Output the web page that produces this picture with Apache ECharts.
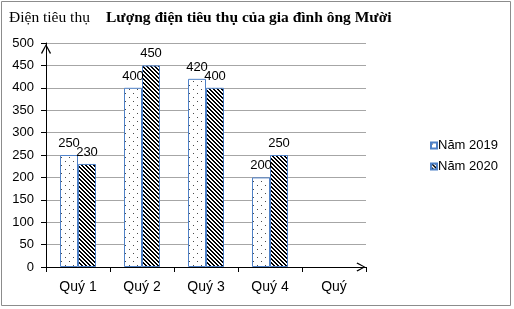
<!DOCTYPE html>
<html>
<head>
<meta charset="utf-8">
<script src="https://cdn.jsdelivr.net/npm/echarts@6/dist/echarts.min.js"></script>
<style>
  html, body { margin: 0; padding: 0; background: #fff; }
  #chart { width: 514px; height: 309px; }
</style>
</head>
<body>
<div id="chart"></div>
<script>
// Quarterly electricity consumption (kWh) of Mr. Mười's family
const quarters = ['Quý 1', 'Quý 2', 'Quý 3', 'Quý 4', 'Quý'];
const year2019 = [250, 400, 420, 200, null];
const year2020 = [230, 450, 400, 250, null];
const seriesNames = ['Năm 2019', 'Năm 2020'];
const yTicks = { min: 0, max: 500, interval: 50 };

// Fill patterns: sparse dots and dense back-slash hatching
function makePattern(size, painter) {
  const c = document.createElement('canvas');
  c.width = size; c.height = size;
  const ctx = c.getContext('2d');
  ctx.fillStyle = '#ffffff';
  ctx.fillRect(0, 0, size, size);
  painter(ctx, size);
  return c;
}
const dotPattern = makePattern(8, (ctx) => {
  ctx.fillStyle = '#4a4a4a';
  ctx.fillRect(1, 1, 1, 1);
  ctx.fillRect(5, 5, 1, 1);
});
const hatchPattern = makePattern(4, (ctx, s) => {
  ctx.fillStyle = '#000000';
  for (let y = 0; y < s; y++) {
    for (let x = 0; x < s; x++) {
      const d = ((x - y) % s + s) % s;
      if (d === 0 || d === 1) ctx.fillRect(x, y, 1, 1);
    }
  }
});

// Open chevron used as axis arrow head (tip at top centre)
const chevron = 'path://M5,0 L10,9 L9,10 L5,2.2 L1,10 L0,9 Z';
const sans = '"Liberation Sans", Arial, sans-serif';
const serif = '"Liberation Serif", "Times New Roman", serif';
const borderBlue = '#4f81c7';

const chart = echarts.init(document.getElementById('chart'), null, { renderer: 'canvas' });

const labelStyle = {
  show: true,
  position: 'top',
  distance: 5,
  color: '#000',
  fontFamily: sans,
  fontSize: 13
};

chart.setOption({
  animation: false,
  backgroundColor: '#ffffff',
  textStyle: { fontFamily: sans },
  graphic: [
    {
      type: 'rect',
      shape: { x: 1.5, y: 1.5, width: 509, height: 304 },
      style: { fill: 'none', stroke: '#8c8c8c', lineWidth: 1 },
      silent: true
    },
    {
      type: 'text',
      left: 9, top: 10,
      style: { text: 'Điện tiêu thụ', font: '15.5px ' + serif, fill: '#000' }
    },
    {
      type: 'text',
      left: 106, top: 10,
      style: { text: 'Lượng điện tiêu thụ của gia đình ông Mười', font: 'bold 15.5px ' + serif, fill: '#000' }
    }
  ],
  legend: {
    orient: 'vertical',
    left: 425,
    top: 134,
    itemWidth: 6,
    itemHeight: 6,
    itemGap: 8,
    icon: 'rect',
    data: seriesNames,
    textStyle: { fontFamily: sans, fontSize: 13, color: '#000', padding: [0, 0, 0, -4] }
  },
  grid: { left: 46, right: 148, top: 43, bottom: 42, containLabel: false },
  xAxis: {
    type: 'category',
    data: quarters,
    boundaryGap: true,
    axisLine: {
      show: true,
      lineStyle: { color: '#000', width: 1 },
      symbol: ['none', chevron],
      symbolSize: [9, 10],
      symbolOffset: [0, -5]
    },
    axisTick: { show: true, length: 5, lineStyle: { color: '#000' } },
    axisLabel: { color: '#000', fontFamily: sans, fontSize: 14, margin: 13 },
    splitLine: { show: false }
  },
  yAxis: {
    type: 'value',
    min: yTicks.min,
    max: yTicks.max,
    interval: yTicks.interval,
    axisLine: {
      show: true,
      lineStyle: { color: '#000', width: 1 },
      symbol: ['none', chevron],
      symbolSize: [10, 12],
      symbolOffset: [0, -6]
    },
    axisTick: { show: true, length: 5, lineStyle: { color: '#000' } },
    axisLabel: { color: '#000', fontFamily: sans, fontSize: 13, margin: 12 },
    splitLine: { show: true, lineStyle: { color: '#a6a6a6', width: 1 } }
  },
  series: [
    {
      name: seriesNames[0],
      type: 'bar',
      data: year2019,
      barWidth: 18,
      barGap: '0%',
      itemStyle: {
        color: { image: dotPattern, repetition: 'repeat' },
        borderColor: borderBlue,
        borderWidth: 1
      },
      label: labelStyle
    },
    {
      name: seriesNames[1],
      type: 'bar',
      data: year2020,
      barWidth: 18,
      barGap: '0%',
      itemStyle: {
        color: { image: hatchPattern, repetition: 'repeat' },
        borderColor: borderBlue,
        borderWidth: 1
      },
      label: labelStyle
    }
  ]
});
</script>
</body>
</html>
